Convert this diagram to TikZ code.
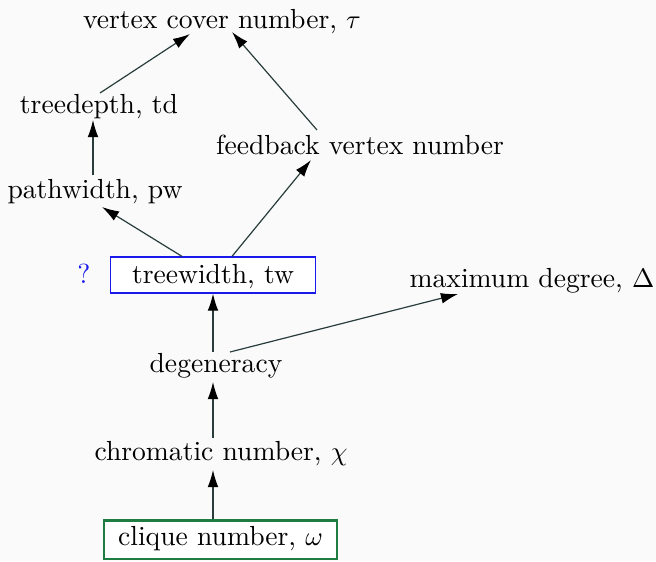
\documentclass[tikz,border=0pt]{standalone}
\usetikzlibrary{arrows.meta,calc}
\definecolor{bgcol}{RGB}{250,250,250}
\definecolor{edgecol}{RGB}{40,60,60}
\definecolor{boxblue}{RGB}{25,25,235}
\definecolor{boxgreen}{RGB}{30,125,65}
\begin{document}
\begin{tikzpicture}[x=0.375pt,y=-0.375pt,
  every node/.style={font=\fontsize{10.35}{12.4}\selectfont},
  param/.style={anchor=base,inner sep=0pt},
  twbox/.style={anchor=base,draw=boxblue,fill=white,line width=0.45pt,
    text height=7pt,text depth=1pt,inner xsep=8pt,inner ysep=2.75pt},
  cqbox/.style={anchor=base,draw=boxgreen,fill=white,line width=0.9pt,
    text height=7pt,text depth=3pt,inner xsep=5.2pt,inner ysep=2.2pt},
  implies/.style={draw=edgecol,line width=0.45pt,
    -{Latex[length=6.4pt,width=4pt,color=black]}}]
  % canvas
  \fill[bgcol] (0,0) rectangle (656,561);
  \useasboundingbox (0,0) rectangle (656,561);

  % parameters
  \node[param] (vc)  at (222,28)  {vertex cover number, $\tau$};
  \node[param] (td)  at (99,113)  {treedepth, td};
  \node[param] (fvn) at (360,154) {feedback vertex number};
  \node[param] (pw)  at (95,198)  {pathwidth, pw};
  \node[twbox] (tw)  at (213,283) {treewidth, tw};
  \node[param,text=boxblue] (q) at (84,283) {?};
  \node[param] (md)  at (532,287) {maximum degree, $\Delta$};
  \node[param] (dg)  at (216,372) {degeneracy};
  \node[param] (ch)  at (221,460) {chromatic number, $\chi$};
  \node[cqbox] (cq)  at (220.5,545) {clique number, $\omega$};

  % bounds
  \draw[implies] ($(td.base)+(1,-20)$)   -- ($(vc.base)+(-32,6)$);
  \draw[implies] ($(fvn.base)+(-43,-24)$) -- ($(vc.base)+(10,4)$);
  \draw[implies] ($(pw.base)+(-2,-23)$)  -- ($(td.base)+(-6,7)$);
  \draw[implies] ($(tw.north)+(-31,0)$)  -- ($(pw.base)+(7,9)$);
  \draw[implies] ($(tw.north)+(19,0)$)   -- ($(fvn.base)+(-49,6)$);
  \draw[implies] ($(dg.base)+(-3,-20)$)  -- (tw.south);
  \draw[implies] ($(dg.base)+(14,-20)$)  -- ($(md.base)+(-74,7)$);
  \draw[implies] ($(ch.base)+(-8,-22)$)  -- ($(dg.base)+(-3,10)$);
  \draw[implies] ($(cq.north)+(-7.5,0)$) -- ($(ch.base)+(-8,10)$);
\end{tikzpicture}
\end{document}
